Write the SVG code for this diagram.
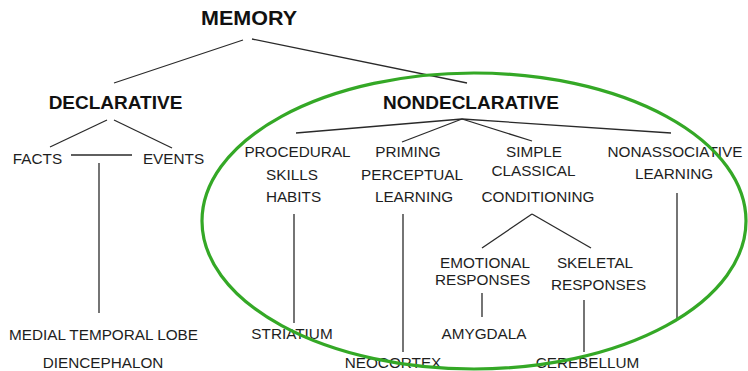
<svg xmlns="http://www.w3.org/2000/svg" width="748" height="371" viewBox="0 0 748 371">
<style>
text{font-family:"Liberation Sans",Arial,sans-serif;fill:#1e1e1e;text-anchor:middle}
.b{font-weight:bold;font-size:19px;fill:#111}
.r{font-size:15.3px}
.c line{stroke:#2a2a2a;stroke-width:1.3}
</style>
<rect width="748" height="371" fill="#fff"/>
<g id="connectors" class="c">
<line x1="243" y1="40" x2="114" y2="83"/>
<line x1="252" y1="39" x2="467" y2="83"/>
<line x1="107" y1="120" x2="50" y2="147"/>
<line x1="114" y1="120" x2="172" y2="148"/>
<line x1="71" y1="155" x2="132" y2="155"/>
<line x1="99" y1="163" x2="99" y2="313"/>
<line x1="462" y1="119" x2="296" y2="133"/>
<line x1="462" y1="119" x2="402" y2="142"/>
<line x1="462" y1="119" x2="532" y2="141"/>
<line x1="462" y1="119" x2="671" y2="133"/>
<line x1="294" y1="214" x2="294" y2="323"/>
<line x1="403" y1="214" x2="403" y2="352"/>
<line x1="532" y1="214" x2="482" y2="248"/>
<line x1="532" y1="214" x2="591" y2="248"/>
<line x1="482" y1="293" x2="482" y2="317"/>
<line x1="584" y1="300" x2="584" y2="352"/>
<line x1="677" y1="193" x2="677" y2="320"/>
</g>
<g id="memory"><text class="b" x="249" y="25" style="font-size:20.5px" textLength="96" lengthAdjust="spacingAndGlyphs">MEMORY</text></g>
<g id="declarative"><text class="b" x="115.5" y="109">DECLARATIVE</text></g>
<g id="nondeclarative"><text class="b" x="471" y="109">NONDECLARATIVE</text></g>
<g id="facts"><text class="r" x="37.5" y="164">FACTS</text></g>
<g id="events"><text class="r" x="173.5" y="164">EVENTS</text></g>
<g id="procedural"><text class="r" x="297.5" y="157">PROCEDURAL</text><text class="r" x="292" y="180">SKILLS</text><text class="r" x="293.5" y="202">HABITS</text></g>
<g id="priming"><text class="r" x="408" y="157">PRIMING</text><text class="r" x="412" y="180">PERCEPTUAL</text><text class="r" x="414" y="202">LEARNING</text></g>
<g id="simple"><text class="r" x="534" y="157">SIMPLE</text><text class="r" x="533.5" y="176">CLASSICAL</text><text class="r" x="538" y="202">CONDITIONING</text></g>
<g id="nonassociative"><text class="r" x="675" y="157">NONASSOCIATIVE</text><text class="r" x="674" y="179">LEARNING</text></g>
<g id="emotional"><text class="r" x="485" y="268">EMOTIONAL</text><text class="r" x="482.5" y="285">RESPONSES</text></g>
<g id="skeletal"><text class="r" x="595" y="268">SKELETAL</text><text class="r" x="598.5" y="290">RESPONSES</text></g>
<g id="mtl"><text class="r" x="103.5" y="340">MEDIAL TEMPORAL LOBE</text><text class="r" x="103" y="368">DIENCEPHALON</text></g>
<g id="striatium"><text class="r" x="292" y="339">STRIATIUM</text></g>
<g id="amygdala"><text class="r" x="484" y="339">AMYGDALA</text></g>
<g id="neocortex"><text class="r" x="393" y="368">NEOCORTEX</text></g>
<g id="cerebellum"><text class="r" x="587.5" y="368">CEREBELLUM</text></g>
<g id="ellipse"><ellipse cx="474" cy="221" rx="272" ry="148" fill="none" stroke="#34a826" stroke-width="3.2"/></g>
</svg>
